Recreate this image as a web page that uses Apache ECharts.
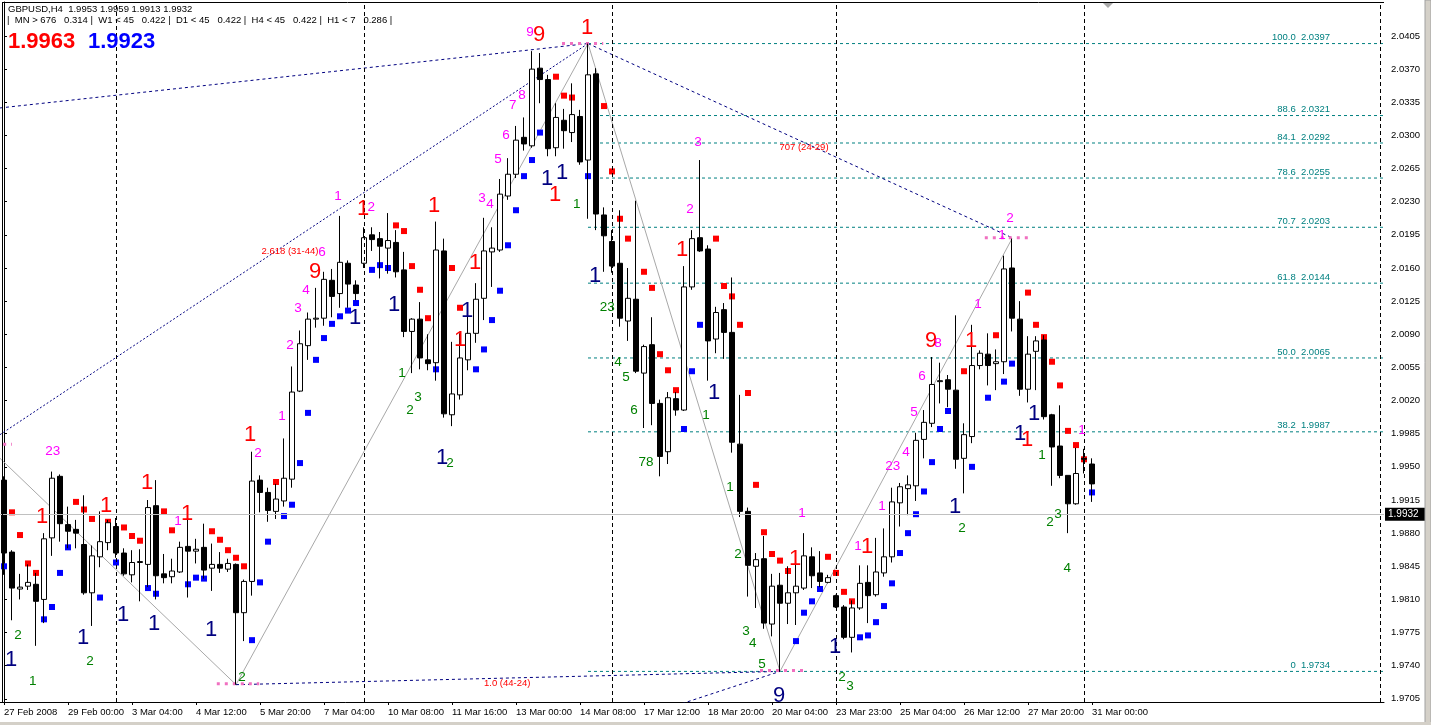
<!DOCTYPE html>
<html><head><meta charset="utf-8">
<script src="https://cdn.jsdelivr.net/npm/echarts@6/dist/echarts.min.js"></script>
<style>html,body{margin:0;padding:0;background:#fff;overflow:hidden}#c{width:1431px;height:725px}</style>
</head><body><div id="c"></div>
<script>
const FONT='"Liberation Sans", Arial, sans-serif';
const H6=[0,4,8,12,16,20];
const tradingDays=[['27 Feb',[16,20]],['28 Feb',H6],['29 Feb',H6],['2 Mar',[23]],['3 Mar',H6],['4 Mar',H6],['5 Mar',H6],['6 Mar',H6],['7 Mar',H6],['9 Mar',[23]],['10 Mar',H6],['11 Mar',H6],['12 Mar',H6],['13 Mar',H6],['14 Mar',H6],['16 Mar',[23]],['17 Mar',H6],['18 Mar',H6],['19 Mar',H6],['20 Mar',H6],['21 Mar',[0,4,8]],['23 Mar',[23]],['24 Mar',H6],['25 Mar',H6],['26 Mar',H6],['27 Mar',H6],['28 Mar',H6],['30 Mar',[23]],['31 Mar',[0]]];
const firstLabel='27 Feb 2008';
const totalSlots=173;

const open=[1.9936,1.9860,1.9821,1.9824,1.9826,1.9810,1.9875,1.9940,1.9889,1.9884,
1.9868,1.9817,1.9855,1.9870,1.9887,1.9859,1.9836,1.9849,1.9847,1.9909,
1.9837,1.9834,1.9839,1.9866,1.9861,1.9865,1.9843,1.9847,1.9842,1.9847,
1.9796,1.9829,1.9936,1.9923,1.9903,1.9914,1.9937,2.0030,2.0078,2.0106,
2.0107,2.0147,2.0133,2.0165,2.0142,2.0165,2.0195,2.0191,2.0181,2.0187,
2.0158,2.0093,2.0106,2.0063,2.0060,2.0178,2.0005,2.0026,2.0063,2.0091,
2.0128,2.0177,2.0179,2.0236,2.0259,2.0298,2.0289,2.0371,2.0359,2.0287,
2.0316,2.0303,2.0320,2.0274,2.0365,2.0216,2.0188,2.0165,2.0104,2.0127,
2.0049,2.0079,2.0017,1.9966,2.0022,2.0010,2.0140,2.0192,2.0180,2.0085,
2.0116,2.0092,1.9974,1.9903,1.9845,1.9853,1.9784,1.9825,1.9806,1.9817,
1.9822,1.9855,1.9838,1.9828,1.9814,1.9802,1.9770,1.9801,1.9828,1.9815,
1.9838,1.9855,1.9912,1.9927,1.9930,1.9979,1.9996,2.0040,2.0042,2.0031,
1.9959,1.9982,2.0057,2.0069,2.0059,2.0061,2.0160,2.0106,2.0032,2.0072,
2.0084,2.0005,1.9972,1.9941,1.9911,1.9959,1.9953];
const close=[1.9859,1.9822,1.9823,1.9828,1.9808,1.9874,1.9938,1.9890,1.9882,1.9880,
1.9817,1.9856,1.9871,1.9891,1.9859,1.9837,1.9849,1.9850,1.9907,1.9835,
1.9833,1.9840,1.9865,1.9861,1.9863,1.9841,1.9847,1.9843,1.9848,1.9796,
1.9829,1.9935,1.9923,1.9904,1.9916,1.9938,2.0029,2.0080,2.0106,2.0107,
2.0148,2.0130,2.0166,2.0143,2.0133,2.0192,2.0190,2.0183,2.0189,2.0156,
2.0093,2.0106,2.0065,2.0059,2.0179,2.0006,2.0027,2.0065,2.0091,2.0127,
2.0178,2.0181,2.0238,2.0259,2.0295,2.0291,2.0370,2.0359,2.0286,2.0319,
2.0305,2.0322,2.0272,2.0364,2.0217,2.0194,2.0162,2.0107,2.0128,2.0051,
2.0077,2.0017,1.9961,2.0023,2.0010,2.0140,2.0191,2.0178,2.0083,2.0113,
2.0092,1.9976,1.9903,1.9846,1.9852,1.9785,1.9824,1.9806,1.9817,1.9824,
1.9856,1.9835,1.9829,1.9833,1.9802,1.9770,1.9801,1.9827,1.9814,1.9839,
1.9855,1.9913,1.9929,1.9931,1.9978,1.9997,2.0037,2.0041,2.0032,1.9958,
1.9984,2.0057,2.0070,2.0057,2.0061,2.0159,2.0107,2.0032,2.0069,2.0083,
2.0003,1.9971,1.9941,1.9911,1.9943,1.9958,1.9932];
const low=[1.9836,1.9788,1.9810,1.9820,1.9761,1.9785,1.9856,1.9871,1.9864,1.9864,
1.9815,1.9782,1.9844,1.9862,1.9854,1.9835,1.9828,1.9808,1.9823,1.9810,
1.9827,1.9827,1.9838,1.9812,1.9848,1.9832,1.9819,1.9838,1.9839,1.9720,
1.9766,1.9814,1.9902,1.9892,1.9895,1.9908,1.9928,2.0029,2.0063,2.0097,
2.0099,2.0108,2.0118,2.0118,2.0126,2.0160,2.0178,2.0149,2.0154,2.0150,
2.0087,2.0049,2.0053,2.0052,2.0041,2.0002,1.9993,2.0021,2.0052,2.0081,
2.0105,2.0140,2.0177,2.0232,2.0255,2.0284,2.0287,2.0334,2.0278,2.0278,
2.0286,2.0293,2.0269,2.0212,2.0200,2.0156,2.0155,2.0098,2.0083,2.0049,
1.9991,1.9994,1.9940,1.9953,2.0004,2.0009,2.0137,2.0177,2.0041,2.0070,
2.0064,1.9965,1.9897,1.9813,1.9801,1.9779,1.9771,1.9734,1.9784,1.9783,
1.9820,1.9822,1.9823,1.9827,1.9801,1.9768,1.9754,1.9799,1.9785,1.9813,
1.9834,1.9849,1.9887,1.9899,1.9914,1.9959,1.9992,2.0017,2.0013,1.9948,
1.9922,1.9975,2.0053,2.0036,2.0031,2.0048,2.0093,2.0025,2.0018,2.0031,
2.0000,1.9930,1.9938,1.9880,1.9910,1.9943,1.9913];
const high=[1.9940,1.9862,1.9837,1.9847,1.9838,1.9880,1.9945,1.9942,1.9908,1.9894,
1.9920,1.9867,1.9903,1.9894,1.9896,1.9864,1.9862,1.9863,1.9915,1.9936,
1.9858,1.9853,1.9871,1.9908,1.9874,1.9890,1.9869,1.9860,1.9853,1.9848,
1.9831,1.9966,1.9941,1.9928,1.9932,1.9980,2.0056,2.0094,2.0113,2.0139,
2.0156,2.0159,2.0215,2.0168,2.0147,2.0203,2.0203,2.0198,2.0218,2.0200,
2.0177,2.0107,2.0124,2.0090,2.0209,2.0191,2.0082,2.0091,2.0123,2.0144,
2.0213,2.0203,2.0254,2.0276,2.0310,2.0319,2.0389,2.0387,2.0364,2.0334,
2.0328,2.0355,2.0327,2.0397,2.0371,2.0224,2.0200,2.0221,2.0160,2.0231,
2.0079,2.0108,2.0021,2.0029,2.0029,2.0162,2.0200,2.0274,2.0184,2.0119,
2.0123,2.0150,2.0026,1.9907,1.9859,1.9877,1.9837,1.9838,1.9845,1.9849,
1.9880,1.9865,1.9861,1.9836,1.9815,1.9804,1.9809,1.9846,1.9846,1.9875,
1.9885,1.9928,1.9933,1.9941,1.9986,2.0010,2.0066,2.0060,2.0047,2.0110,
1.9996,2.0100,2.0073,2.0091,2.0074,2.0173,2.0191,2.0125,2.0088,2.0088,
2.0089,2.0006,2.0015,1.9941,1.9970,1.9969,1.9959];

const sarRedIdx=[1,2,3,4,9,10,11,13,15,16,17,20,21,22,26,27,28,29,30,34,45,49,50,51,52,53,56,57,69,70,71,75,76,77,78,80,81,82,83,84,89,90,91,92,93,94,95,96,97,98,103,104,105,106,120,122,124,128,129,130,131,132,133,134,135];
const sarRedVal=[1.9902,1.9878,1.9848,1.9838,1.9913,1.9905,1.9895,1.9892,1.9886,1.9877,1.9872,1.9903,1.9883,1.9861,1.9882,1.9873,1.9862,1.9854,1.9845,1.9934,2.0181,2.0205,2.0199,2.0162,2.0137,2.0107,2.0160,2.0118,2.0362,2.0342,2.0340,2.0331,2.0262,2.0212,2.0191,2.0156,2.0139,2.0069,2.0052,2.0031,2.0191,2.0141,2.0130,2.0100,2.0028,1.9931,1.9881,1.9858,1.9851,1.9840,1.9855,1.9838,1.9818,1.9808,2.0051,2.0061,2.0089,2.0134,2.0100,2.0087,2.0061,2.0036,1.9988,1.9973,1.9958];
const sarBlueIdx=[0,5,6,7,8,12,14,18,19,23,24,25,31,32,33,35,36,37,38,39,40,41,42,43,44,46,47,48,54,55,59,60,61,62,63,64,65,66,67,68,72,73,74,79,85,86,87,88,99,100,101,102,107,108,109,110,111,112,113,114,115,116,117,118,119,121,123,125,126,127,136];
const sarBlueVal=[1.9845,1.9789,1.9802,1.9838,1.9865,1.9812,1.9849,1.9822,1.9816,1.9826,1.9833,1.9832,1.9767,1.9828,1.9871,1.9898,1.9910,1.9954,2.0007,2.0063,2.0086,2.0101,2.0109,2.0115,2.0123,2.0158,2.0163,2.0160,2.0053,2.0033,2.0053,2.0074,2.0105,2.0136,2.0184,2.0221,2.0257,2.0274,2.0303,2.0300,2.0282,2.0257,2.0223,2.0077,1.9990,2.0051,2.0100,2.0110,1.9766,1.9796,1.9808,1.9821,1.9770,1.9772,1.9786,1.9803,1.9827,1.9859,1.9880,1.9900,1.9924,1.9955,1.9990,2.0009,1.9994,1.9950,2.0023,2.0040,2.0059,2.0057,1.9923];

const priceTicks=['2.0405','2.0370','2.0335','2.0300','2.0265','2.0230','2.0195','2.0160','2.0125','2.0090','2.0055','2.0020','1.9985','1.9950','1.9915','1.9880','1.9845','1.9810','1.9775','1.9740','1.9705'];
const fibLevels=['100.0','88.6','84.1','78.6','70.7','61.8','50.0','38.2','0'];
const fibPrices=[2.0397,2.0321,2.0292,2.0255,2.0203,2.0144,2.0065,1.9987,1.9734];
const fibStartIdx=73;
const separatorIdx=[14,45,76,104,135,172];

const trendA=[[-0.5,2.0329],[73,2.0397]];
const trendB=[[-0.5,1.9984],[73,2.0397]];
const trendC=[[73,2.0397],[126,2.0192]];
const trendD=[[29,1.9720],[97,1.9734]];
const trendE=[[84.75,1.9700],[97,1.9734]];
const zigzag=[[-0.5,1.9959],[29,1.9720],[73,2.0397],[97,1.9734],[126,2.0191]];
const pinkMarks=[[-0.1,1.0,1.9974],[26.6,31.9,1.9721],[69.75,74.9,2.0397],[94.5,99.9,1.9735],[122.6,128,2.0192]];
const ratioTexts=[[100,2.0287,'707 (24-29)'],[35.75,2.0178,'2.618 (31-44)'],[62.9,1.9721,'1.0 (44-24)']];

const notes=[
[6.1,1.9966,'23','m',0],[4.75,1.9897,'1','r',1],[0.9,1.9746,'1','n',1],[1.75,1.9772,'2','g',0],[3.6,1.9724,'1','g',0],
[12.75,1.9909,'1','r',1],[9.9,1.9769,'1','n',1],[10.75,1.9745,'2','g',0],[17.9,1.9933,'1','r',1],[21.75,1.9893,'1','m',0],
[22.9,1.9900,'1','r',1],[14.9,1.9794,'1','n',1],[18.75,1.9784,'1','n',1],[25.9,1.9778,'1','n',1],[30.75,1.9984,'1','r',1],
[31.75,1.9964,'2','m',0],[29.75,1.9728,'2','g',0],[34.75,2.0003,'1','m',0],[35.75,2.0078,'2','m',0],[36.75,2.0117,'3','m',0],
[37.75,2.0136,'4','m',0],[38.9,2.0156,'9','r',1],[39.75,2.0177,'6','m',0],[41.75,2.0236,'1','m',0],[43.9,2.0107,'1','n',1],
[44.9,2.0222,'1','r',1],[45.9,2.0224,'2','m',0],[53.75,2.0226,'1','r',1],[48.75,2.0121,'1','n',1],[49.75,2.0049,'1','g',0],
[50.75,2.0010,'2','g',0],[51.75,2.0024,'3','g',0],[54.75,1.9959,'1','n',1],[55.75,1.9954,'2','g',0],[57,2.0084,'1','r',1],
[57.9,2.0115,'1','n',1],[58.9,2.0165,'1','r',1],[59.75,2.0234,'3','m',0],[60.75,2.0227,'4','m',0],[61.75,2.0275,'5','m',0],
[62.75,2.0300,'6','m',0],[63.6,2.0332,'7','m',0],[64.75,2.0342,'8','m',0],[65.75,2.0409,'9','m',0],[66.9,2.0406,'9','r',1],
[72.9,2.0413,'1','r',1],[67.9,2.0254,'1','n',1],[69.75,2.0260,'1','n',1],[68.9,2.0237,'1','r',1],[71.6,2.0227,'1','g',0],
[73.9,2.0152,'1','n',1],[75.4,2.0119,'23','g',0],[76.75,2.0060,'4','g',0],[77.75,2.0045,'5','g',0],[78.75,2.0010,'6','g',0],
[80.25,1.9955,'78','g',0],[86.75,2.0293,'3','m',0],[85.75,2.0222,'2','m',0],[84.75,2.0179,'1','r',1],[88.75,2.0028,'1','n',1],
[87.75,2.0004,'1','g',0],[90.75,1.9928,'1','g',0],[91.75,1.9858,'2','g',0],[92.75,1.9776,'3','g',0],[93.6,1.9764,'4','g',0],
[94.75,1.9742,'5','g',0],[96.9,1.9708,'9','n',1],[99.75,1.9901,'1','m',0],[98.9,1.9853,'1','r',1],[103.9,1.9760,'1','n',1],
[104.75,1.9728,'2','g',0],[105.75,1.9718,'3','g',0],[106.75,1.9866,'1','m',0],[107.9,1.9865,'1','r',1],[109.75,1.9908,'1','m',0],
[111.1,1.9951,'23','m',0],[112.75,1.9965,'4','m',0],[113.75,2.0008,'5','m',0],[114.75,2.0046,'6','m',0],[115.9,2.0083,'9','r',1],
[116.75,2.0081,'8','m',0],[120.9,2.0083,'1','r',1],[121.75,2.0122,'1','m',0],[124.75,2.0195,'1','m',0],[125.75,2.0212,'2','m',0],
[118.9,1.9908,'1','n',1],[119.75,1.9885,'2','g',0],[127,1.9985,'1','n',1],[127.9,1.9978,'1','r',1],[128.75,2.0006,'1','n',1],
[129.75,1.9962,'1','g',0],[130.75,1.9892,'2','g',0],[131.75,1.9900,'3','g',0],[132.9,1.9843,'4','g',0],[134.75,1.9989,'1','m',0]
];
const noteColors={m:'#ff00ff',r:'#ff0000',n:'#000080',g:'#008000'};
const symbolName='GBPUSD,H4';
const infoLine='|  MN > 676   0.314 |  W1 < 45   0.422 |  D1 < 45   0.422 |  H4 < 45   0.422 |  H1 < 7   0.286 |';
const bigValues=['1.9963','1.9923'];

// ---- build ----
const categories=[];
tradingDays.forEach(([d,hrs])=>hrs.forEach(h=>categories.push(d+' '+String(h).padStart(2,'0')+':00')));
categories[0]=firstLabel;
const nBars=categories.length;
while(categories.length<totalSlots) categories.push('');
const candleData=open.map((o,i)=>[o,close[i],low[i],high[i]]);
const last=nBars-1;
const yMin=1.970169, yMax=2.044089;

const series=[];
series.push({type:'candlestick',xAxisIndex:0,yAxisIndex:0,data:candleData,barWidth:5,z:3,
  itemStyle:{color:'#ffffff',color0:'#000000',borderColor:'#000000',borderColor0:'#000000',borderWidth:1},
  markLine:{silent:true,symbol:['none','none'],animation:false,
    data:[{yAxis:close[last],lineStyle:{color:'#c0c0c0',type:'solid',width:1},
      label:{show:true,position:'end',formatter:close[last].toFixed(4),backgroundColor:'#000',color:'#fff',fontFamily:FONT,fontSize:10,padding:[2,9,1,3],distance:1}}]
      .concat(separatorIdx.map(s=>({xAxis:s,lineStyle:{color:'#000',type:[4,3],width:1},label:{show:false}})))
  }});
function lineS(data,color,type,width,z){return {type:'line',xAxisIndex:1,yAxisIndex:0,data,symbol:'none',silent:true,z:z||1,
  lineStyle:{color,type,width:width||1,cap:'butt',opacity:1}};}
fibPrices.forEach(p=>series.push(lineS([[fibStartIdx,p],[totalSlots-0.5,p]],'#008080',[3,3],1,1)));
series.push(lineS(zigzag,'#a8a8a8','solid',1,1));
series.push(lineS(trendA,'#000080',[3,3],1,1));
series.push(lineS(trendB,'#000080',[2,2],1,1));
series.push(lineS(trendC,'#000080',[3,3],1,1));
series.push(lineS(trendD,'#000080',[3,3],1,1));
series.push(lineS(trendE,'#000080',[3,3],1,1));
pinkMarks.forEach(([a,b,p])=>series.push(lineS([[a,p],[b,p]],'#f070c0',[3,5],3,2)));
series.push({type:'scatter',xAxisIndex:1,yAxisIndex:0,symbol:'rect',symbolSize:6,z:2,silent:true,
  itemStyle:{color:'#ff0000',opacity:1},data:sarRedIdx.map((i,k)=>[i,sarRedVal[k]])});
series.push({type:'scatter',xAxisIndex:1,yAxisIndex:0,symbol:'rect',symbolSize:6,z:2,silent:true,
  itemStyle:{color:'#0000ff',opacity:1},data:sarBlueIdx.map((i,k)=>[i,sarBlueVal[k]])});
function textScatter(data){return {type:'scatter',xAxisIndex:1,yAxisIndex:0,symbolSize:1,z:5,silent:true,
  itemStyle:{color:'rgba(0,0,0,0)',opacity:1},data};}
series.push(textScatter(notes.map(n=>({value:[n[0],n[1]],label:{show:true,position:'inside',formatter:n[2],color:noteColors[n[3]],
    opacity:1,fontFamily:FONT,fontSize:n[4]?22:13.5}}))));
series.push(textScatter(ratioTexts.map(t=>({value:[t[0],t[1]],label:{show:true,position:'inside',formatter:t[2],color:'#ff0000',opacity:1,fontFamily:FONT,fontSize:9.5}}))));
series.push(textScatter(fibPrices.map((p,k)=>({value:[165.75,p],label:{show:true,position:'inside',align:'right',verticalAlign:'bottom',offset:[0,-1],
    formatter:fibLevels[k]+'  '+p.toFixed(4),color:'#008080',opacity:1,fontFamily:FONT,fontSize:9.5}}))));

const showIdx=(i)=>i%8===0 && i<nBars;
const option={
  animation:false,backgroundColor:'#ffffff',
  grid:{left:0,top:2,width:1384,height:700},
  xAxis:[{type:'category',data:categories,boundaryGap:true,
    axisLine:{show:true,lineStyle:{color:'#000',width:1}},
    axisTick:{show:true,interval:(i)=>showIdx(i),alignWithLabel:true,length:3,lineStyle:{color:'#000'}},
    axisLabel:{interval:(i)=>showIdx(i),align:'left',color:'#000',fontFamily:FONT,fontSize:9.5,margin:5},
    splitLine:{show:false}},
   {type:'value',min:-0.5,max:totalSlots-0.5,show:false}],
  yAxis:[{type:'value',position:'right',min:yMin,max:yMax,
    axisLine:{show:true,lineStyle:{color:'#000',width:1}},
    axisTick:{show:true,length:3,lineStyle:{color:'#000'},customValues:priceTicks.map(Number)},
    axisLabel:{color:'#000',fontFamily:FONT,fontSize:9.5,margin:7,customValues:priceTicks.map(Number),formatter:(v)=>v.toFixed(4)},
    splitLine:{show:false}}],
  series,
  graphic:[
    {type:'line',shape:{x1:2.5,y1:2,x2:2.5,y2:702},style:{stroke:'#000',lineWidth:1},z:10},
    {type:'line',shape:{x1:2,y1:2.5,x2:1384,y2:2.5},style:{stroke:'#000',lineWidth:1},z:10},
    {type:'text',left:8,top:4,z:10,style:{text:symbolName+'  '+[open[last],high[last],low[last],close[last]].map(v=>v.toFixed(4)).join(' '),font:'9.5px '+FONT,fill:'#000'}},
    {type:'text',left:7,top:15,z:10,style:{text:infoLine,font:'9.5px '+FONT,fill:'#000'}},
    {type:'text',left:8,top:31,z:10,style:{text:bigValues[0],font:'bold 22px '+FONT,fill:'#ff0000'}},
    {type:'text',left:88,top:31,z:10,style:{text:bigValues[1],font:'bold 22px '+FONT,fill:'#0000ff'}},
    {type:'polygon',shape:{points:[[1103,3],[1113,3],[1108,8]]},style:{fill:'#a8a8a8'},z:10},
    {type:'rect',shape:{x:1425,y:0,width:6,height:725},style:{fill:'#d4d0c8',stroke:'#a0a0a0',lineWidth:1},z:10},
    {type:'rect',shape:{x:0,y:722,width:1431,height:3},style:{fill:'#d4d0c8'},z:10}
  ]
};
const chart=echarts.init(document.getElementById('c'),null,{renderer:'canvas'});
chart.setOption(option);
</script>
</body></html>
